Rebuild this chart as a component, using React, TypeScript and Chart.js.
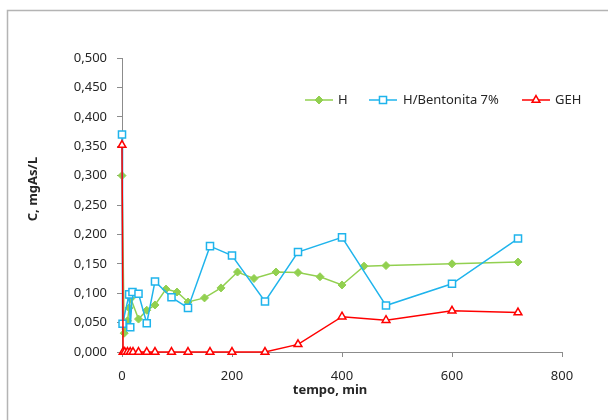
import React, { useEffect, useRef } from 'react';
import { Chart, registerables } from 'chart.js';
import { drawPoint } from 'chart.js/helpers';

Chart.register(...registerables);

// Time (min) and arsenic concentration (mgAs/L) for each material
const hTime = [0, 4, 10, 13, 16, 30, 45, 60, 80, 100, 120, 150, 180, 210, 240, 280, 320, 360, 400, 440, 480, 600, 720];
const hConc = [0.300, 0.032, 0.053, 0.075, 0.091, 0.056, 0.071, 0.080, 0.107, 0.102, 0.085, 0.092, 0.109, 0.136, 0.125, 0.136, 0.135, 0.128, 0.114, 0.146, 0.147, 0.150, 0.153];

const bTime = [0, 1, 13, 15, 19, 30, 45, 60, 90, 120, 160, 200, 260, 320, 400, 480, 600, 720];
const bConc = [0.370, 0.048, 0.098, 0.042, 0.102, 0.099, 0.049, 0.120, 0.093, 0.075, 0.180, 0.164, 0.086, 0.170, 0.195, 0.079, 0.116, 0.193];

const gTime = [0, 2, 5, 10, 15, 20, 30, 45, 60, 90, 120, 160, 200, 260, 320, 400, 480, 600, 720];
const gConc = [0.352, 0, 0, 0, 0, 0, 0, 0, 0, 0, 0, 0, 0, 0, 0.013, 0.060, 0.054, 0.070, 0.067];

const seriesNames = ['H', 'H/Bentonita 7%', 'GEH'];
const xTitle = 'tempo, min';
const yTitle = 'C, mgAs/L';

const FONT = "'Noto Sans', sans-serif";
const AXIS = '#8c8c8c';
const TEXT = '#262626';

const toPoints = (xs: number[], ys: number[]) => xs.map((x, i) => ({ x, y: ys[i] }));

// Frame, axis titles and an in-plot legend (line + marker per series)
const decorations = {
  id: 'decorations',
  afterDraw(chart: any) {
    const ctx = chart.ctx as CanvasRenderingContext2D;
    ctx.save();

    // outer frame
    ctx.strokeStyle = '#b4b4b4';
    ctx.lineWidth = 1.5;
    ctx.beginPath();
    ctx.moveTo(7.5, 420);
    ctx.lineTo(7.5, 10.5);
    ctx.lineTo(608, 10.5);
    ctx.stroke();

    // axis titles
    ctx.fillStyle = TEXT;
    ctx.font = `bold 13px ${FONT}`;
    ctx.textAlign = 'center';
    ctx.textBaseline = 'middle';
    ctx.fillText(xTitle, 330, 390);
    ctx.save();
    ctx.translate(33, 189);
    ctx.rotate(-Math.PI / 2);
    ctx.fillText(yTitle, 0, 0);
    ctx.restore();

    // legend
    const slots = [
      { x0: 305, x1: 333, tx: 338 },
      { x0: 369, x1: 397, tx: 403 },
      { x0: 522, x1: 550, tx: 555 },
    ];
    const ly = 100;
    ctx.font = `13px ${FONT}`;
    ctx.textAlign = 'left';
    chart.data.datasets.forEach((ds: any, i: number) => {
      const s = slots[i];
      ctx.strokeStyle = ds.borderColor;
      ctx.lineWidth = ds.borderWidth;
      ctx.beginPath();
      ctx.moveTo(s.x0, ly);
      ctx.lineTo(s.x1, ly);
      ctx.stroke();
      ctx.fillStyle = ds.pointBackgroundColor;
      ctx.strokeStyle = ds.pointBorderColor;
      ctx.lineWidth = ds.pointBorderWidth;
      drawPoint(ctx, { pointStyle: ds.pointStyle, radius: ds.pointRadius, rotation: 0, borderWidth: ds.pointBorderWidth }, (s.x0 + s.x1) / 2, ly);
      ctx.fillStyle = TEXT;
      ctx.fillText(ds.label, s.tx, ly + 0.5);
    });

    ctx.restore();
  },
};

export default function App() {
  const ref = useRef<HTMLCanvasElement>(null);

  useEffect(() => {
    if (!ref.current) return;
    Chart.defaults.font.family = FONT;
    const chart = new Chart(ref.current, {
      type: 'line',
      data: {
        datasets: [
          {
            label: seriesNames[0],
            data: toPoints(hTime, hConc),
            borderColor: '#92D050',
            borderWidth: 1.5,
            pointStyle: 'rectRot',
            pointRadius: 4,
            pointBackgroundColor: '#92D050',
            pointBorderColor: '#92D050',
            pointBorderWidth: 1,
            order: 3,
            clip: false,
          },
          {
            label: seriesNames[1],
            data: toPoints(bTime, bConc),
            borderColor: '#1FB4EC',
            borderWidth: 1.5,
            pointStyle: 'rect',
            pointRadius: 5,
            pointBackgroundColor: '#ffffff',
            pointBorderColor: '#1FB4EC',
            pointBorderWidth: 1.5,
            order: 2,
            clip: false,
          },
          {
            label: seriesNames[2],
            data: toPoints(gTime, gConc),
            borderColor: '#FF0000',
            borderWidth: 1.5,
            pointStyle: 'triangle',
            pointRadius: 4.5,
            pointBackgroundColor: '#ffffff',
            pointBorderColor: '#FF0000',
            pointBorderWidth: 1.5,
            order: 1,
            clip: false,
          },
        ] as any,
      },
      options: {
        responsive: false,
        animation: false,
        devicePixelRatio: 1,
        layout: { padding: { top: 58, right: 46, left: 0, bottom: 0 } },
        plugins: { legend: { display: false }, tooltip: { enabled: false }, title: { display: false } },
        elements: { line: { tension: 0 } },
        scales: {
          x: {
            type: 'linear',
            min: 0,
            max: 800,
            ticks: { stepSize: 200, color: TEXT, font: { size: 13, family: FONT }, padding: 11 },
            grid: { drawOnChartArea: false, drawTicks: true, tickLength: 5, color: AXIS },
            border: { color: AXIS, width: 1 },
            afterFit: (s: any) => { s.height = 68; },
          },
          y: {
            type: 'linear',
            min: 0,
            max: 0.5,
            ticks: {
              stepSize: 0.05,
              color: TEXT,
              font: { size: 13, family: FONT },
              padding: 10,
              callback: (v: any) => Number(v).toFixed(3).replace('.', ','),
            },
            grid: { drawOnChartArea: false, drawTicks: true, tickLength: 5, color: AXIS },
            border: { color: AXIS, width: 1 },
            afterFit: (s: any) => { s.width = 122; },
          },
        },
      } as any,
      plugins: [decorations],
    });
    return () => chart.destroy();
  }, []);

  return (
    <div style={{ position: 'fixed', left: 0, top: 0, width: 608, height: 420, background: '#fff' }}>
      <canvas ref={ref} width={608} height={420} style={{ width: 608, height: 420, display: 'block' }} />
    </div>
  );
}
